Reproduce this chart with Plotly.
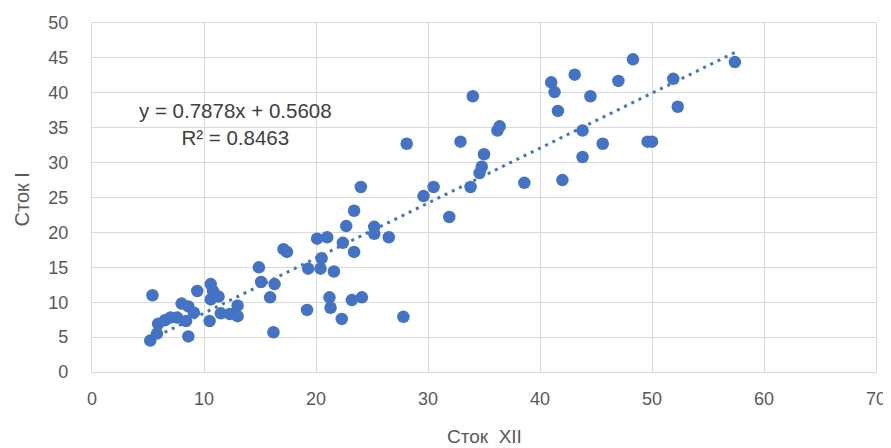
import plotly.graph_objects as go

# --- data ---
stock_xii = [5.4, 5.2, 5.8, 5.9, 6.5, 7.0, 7.6, 8.0, 8.6, 8.4, 8.6, 9.1, 9.4, 10.5, 10.6,
             10.8, 10.6, 11.3, 11.5, 12.3, 13.0, 13.0, 14.9, 15.1, 15.9, 16.2, 16.3, 17.1,
             17.4, 19.2, 19.3, 20.1, 20.4, 20.5, 21.0, 21.2, 21.3, 21.6, 22.3, 22.4, 22.7,
             23.2, 23.4, 23.4, 24.1, 24.0, 25.2, 25.2, 26.5, 27.8, 28.1, 29.6, 30.5, 31.9,
             32.9, 33.8, 34.0, 34.6, 34.8, 35.0, 36.2, 36.4, 38.6, 41.0, 41.3, 41.6, 42.0,
             43.1, 43.8, 43.8, 44.5, 45.6, 47.0, 48.3, 49.6, 50.0, 51.9, 52.3, 57.4]
stock_i = [11.0, 4.5, 5.5, 6.9, 7.4, 7.8, 7.8, 9.8, 9.4, 7.3, 5.1, 8.5, 11.6, 7.3, 12.6,
           11.6, 10.4, 10.8, 8.4, 8.3, 9.5, 8.0, 15.0, 12.9, 10.7, 5.7, 12.6, 17.6,
           17.2, 8.9, 14.8, 19.1, 14.8, 16.3, 19.3, 10.7, 9.2, 14.4, 7.6, 18.5, 20.9,
           10.3, 17.2, 23.1, 10.7, 26.5, 20.8, 19.8, 19.3, 7.9, 32.7, 25.2, 26.5, 22.2,
           33.0, 26.5, 39.5, 28.5, 29.4, 31.2, 34.6, 35.2, 27.1, 41.5, 40.1, 37.4, 27.5,
           42.6, 34.6, 30.8, 39.5, 32.7, 41.7, 44.8, 33.0, 33.0, 42.0, 38.0, 44.4]

trend_slope = 0.7878
trend_intercept = 0.5608
r_squared = 0.8463

x_ticks = [0, 10, 20, 30, 40, 50, 60, 70]
y_ticks = [0, 5, 10, 15, 20, 25, 30, 35, 40, 45, 50]

x_title = "Сток\u00a0 XII"
y_title = "Сток I"

BLUE = "#4472C4"
GRID = "#D9D9D9"
TXT = "#595959"
FONT = "Liberation Sans, Arial, sans-serif"

x_min, x_max = min(stock_xii), max(stock_xii)
trend_x = [x_min, x_max]
trend_y = [trend_slope * v + trend_intercept for v in trend_x]

fig = go.Figure()
fig.add_trace(go.Scatter(
    x=trend_x, y=trend_y, mode="lines",
    line=dict(color=BLUE, width=3, dash="3px,5px"),
    hoverinfo="skip", showlegend=False))
fig.add_trace(go.Scatter(
    x=stock_xii, y=stock_i, mode="markers",
    marker=dict(color=BLUE, size=12.5, line=dict(width=0)),
    showlegend=False))

eq_text = f"y = {trend_slope}x + {trend_intercept}<br>R² = {r_squared}"
fig.add_annotation(
    x=12.8, y=35.5, xref="x", yref="y", text=eq_text, showarrow=False,
    font=dict(family=FONT, size=20.5, color="#404040"), align="center",
    xanchor="center", yanchor="middle")

# axis titles
fig.add_annotation(x=0.5, y=0, xref="paper", yref="paper", text=x_title,
                   showarrow=False, yanchor="middle", xanchor="center", yshift=-64,
                   font=dict(family=FONT, size=19, color=TXT))
fig.add_annotation(x=0, y=0.5, xref="paper", yref="paper", text=y_title,
                   showarrow=False, textangle=-90, xanchor="center", yanchor="middle",
                   xshift=-71, yshift=-2,
                   font=dict(family=FONT, size=20, color=TXT))

fig.update_xaxes(range=[0, 70], tickvals=x_ticks, ticktext=[str(v) for v in x_ticks],
                 showgrid=True, gridcolor=GRID, gridwidth=1.3, zeroline=False,
                 showline=True, mirror=True, linecolor=GRID, linewidth=1.3,
                 ticks="", ticklabelstandoff=10,
                 tickfont=dict(family=FONT, size=18, color=TXT))
fig.update_yaxes(range=[0, 50], tickvals=y_ticks, ticktext=[str(v) for v in y_ticks],
                 showgrid=True, gridcolor=GRID, gridwidth=1.3, zeroline=False,
                 showline=True, mirror=True, linecolor=GRID, linewidth=1.3,
                 ticks="", ticklabelstandoff=19,
                 tickfont=dict(family=FONT, size=18, color=TXT))

# the page body adds an 8px margin, so the figure is sized to fit inside the window
fig.update_layout(
    width=883, height=440,
    margin=dict(l=84, r=15, t=15, b=76, autoexpand=False),
    paper_bgcolor="white", plot_bgcolor="white",
    font=dict(family=FONT, color=TXT),
)

fig.write_html("out.html")
